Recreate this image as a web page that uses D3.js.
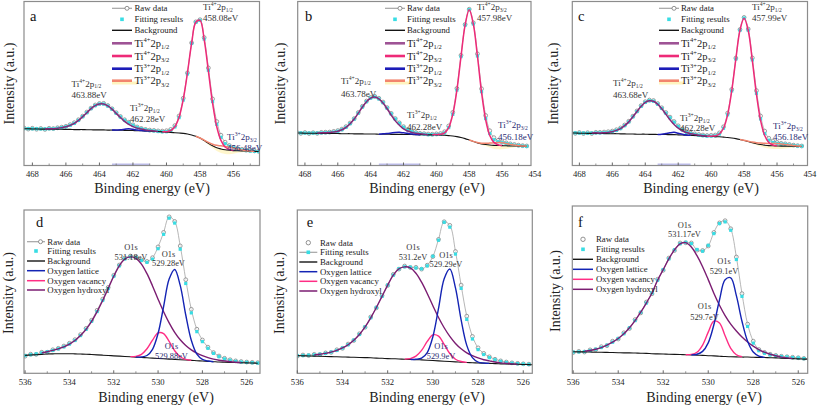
<!DOCTYPE html>
<html><head><meta charset="utf-8">
<script src="https://cdn.jsdelivr.net/npm/d3@7"></script>
<style>
body{margin:0;background:#fff}
svg{display:block}
svg text{font-family:'Liberation Serif','Times New Roman',Times,serif}
</style>
</head><body>
<svg id="chart" width="817" height="407" font-family="Liberation Serif, Times New Roman, serif"></svg>
<script>
// ---------------- DATA ----------------
const topEnergy = [468.5,468.25,468,467.75,467.5,467.25,467,466.75,466.5,466.25,466,465.75,465.5,465.25,465,464.75,464.5,464.25,464,463.75,463.5,463.25,463,462.75,462.5,462.25,462,461.75,461.5,461.25,461,460.75,460.5,460.25,460,459.75,459.5,459.25,459,458.75,458.5,458.25,458,457.75,457.5,457.25,457,456.75,456.5,456.25,456,455.75,455.5,455.25,455,454.75,454.5];
const botEnergy = [536,535.75,535.5,535.25,535,534.75,534.5,534.25,534,533.75,533.5,533.25,533,532.75,532.5,532.25,532,531.75,531.5,531.25,531,530.75,530.5,530.25,530,529.75,529.5,529.25,529,528.75,528.5,528.25,528,527.75,527.5,527.25,527,526.75,526.5,526.25,526,525.75,525.5];

const topTicksA = [468,466,464,462,460,458,456];
const topTicksBC = [468,466,464,462,460,458,456,454];
const topMinor = [467,465,463,461,459,457,455];
const botTicks = [536,534,532,530,528,526];
const botMinor = [535,533,531,529,527];

const topLegendLabels = ["Raw data","Fitting results","Background"];
const tiLegend = [["4+","1/2"],["4+","3/2"],["3+","1/2"],["3+","3/2"]];
const botLegendLabels = ["Raw data","Fitting results","Background","Oxygen lattice","Oxygen vacancy","Oxygen hydroxyl"];

// panel a (Ti 2p)
const aRaw = [22.9,22.2,22.7,22.1,22.6,22.0,22.7,22.5,23.0,23.4,23.9,24.9,26.1,27.9,30.1,32.6,35.0,36.9,37.8,37.9,36.6,34.6,32.2,29.9,27.9,26.4,24.8,23.5,22.6,22.0,21.6,21.4,21.1,21.0,21.2,22.0,24.3,30.2,41.0,56.5,74.8,87.6,88.9,78.0,59.5,40.6,26.8,18.5,14.2,12.2,11.0,10.3,9.9,9.4,9.2,8.9,8.7];
const aFit = [22.5,22.5,22.4,22.4,22.3,22.3,22.4,22.4,22.7,23.1,23.6,24.5,25.7,27.5,29.8,32.2,34.7,36.5,37.5,37.5,36.3,34.4,31.9,29.6,27.6,26.1,24.5,23.2,22.4,21.8,21.3,21.1,20.8,20.6,20.6,21.3,23.5,29.2,39.9,55.8,74.4,87.3,88.5,77.1,58.1,39.0,25.1,17.2,13.3,11.7,10.7,10.0,9.5,9.1,8.8,8.6,8.5];
const aBg = [22.4,22.4,22.3,22.3,22.2,22.2,22.2,22.1,22.1,22.1,22.0,22.0,21.9,21.9,21.9,21.8,21.8,21.7,21.7,21.7,21.6,21.6,21.5,21.5,21.4,21.4,21.3,21.2,21.2,21.1,21.0,20.9,20.7,20.5,20.3,20.2,20.0,19.8,19.6,19.2,18.6,17.8,16.7,15.2,13.5,12.0,10.8,10.1,9.6,9.3,9.1,9.0,8.9,8.8,8.7,8.6,8.5];
const aTi4p12From = 467.25, aTi4p12 = [0.1,0.2,0.3,0.6,1.0,1.6,2.5,3.8,5.6,7.9,10.4,12.9,14.8,15.8,15.8,14.7,12.8,10.3,7.8,5.5,3.7,2.4,1.6,1.0,0.6,0.3,0.2,0.1];
const aTi4p32From = 460.25, aTi4p32 = [0.1,0.3,1.1,3.6,9.6,20.6,37.2,55.8,69.5,71.8,61.6,44.0,26.0,12.8,5.2,1.7,0.5,0.1];
const aTi3p12From = 463.25, aTi3p12 = [0.0,0.1,0.3,0.7,1.0,0.8,0.4,0.15,0.05,0.0];
const aTi3p32From = 458.25, aTi3p32 = [0.0,0.1,0.3,0.6,1.0,1.5,1.9,2.0,1.9,1.5,1.0,0.6,0.3,0.1,0.0];
const aPeakText = [["Ti","4+","1/2","463.88eV"],["Ti","3+","1/2","462.28eV"],["Ti","4+","1/2","458.08eV"],["Ti","3+","3/2","456.48eV"]];

// panel b
const bRaw = [20.3,19.6,20.1,19.5,20.0,19.6,20.2,20.3,20.4,20.8,21.3,22.2,23.7,25.9,28.6,32.3,36.1,39.3,41.5,42.2,41.0,38.7,35.3,31.8,28.6,26.0,23.7,22.0,20.9,20.1,19.6,19.4,19.2,19.1,19.3,19.5,20.6,24.1,32.4,47.0,67.2,86.0,95.3,87.0,68.1,46.8,30.5,21.2,17.0,15.3,14.4,13.8,13.2,12.8,12.4,12.1,11.9];
const bFit = [19.9,19.9,19.8,19.8,19.8,19.8,19.9,20.0,20.1,20.4,20.9,21.8,23.3,25.5,28.3,31.9,35.7,38.9,41.1,41.8,40.6,38.3,35.0,31.5,28.3,25.7,23.3,21.7,20.6,19.8,19.3,19.1,18.8,18.8,18.9,19.0,19.9,23.1,31.2,46.0,66.4,85.6,95.0,86.3,66.8,45.0,28.6,19.5,15.7,14.5,13.9,13.4,12.9,12.4,12.1,11.9,11.7];
const bBg = [19.8,19.8,19.7,19.7,19.7,19.6,19.6,19.6,19.5,19.5,19.5,19.4,19.4,19.4,19.3,19.3,19.3,19.2,19.2,19.2,19.1,19.1,19.1,19.0,19.0,19.0,18.9,18.9,18.9,18.8,18.8,18.8,18.7,18.7,18.7,18.6,18.4,18.2,18.0,17.6,17.1,16.4,15.5,14.6,13.8,13.2,12.8,12.5,12.3,12.2,12.1,12.0,11.9,11.9,11.8,11.8,11.7];
const bTi4p12From = 467.25, bTi4p12 = [0.2,0.3,0.4,0.6,0.9,1.4,2.4,3.9,6.1,9.0,12.6,16.4,19.7,21.9,22.6,21.5,19.0,15.5,11.7,8.2,5.5,3.4,2.1,1.3,0.8,0.5,0.3,0.1];
const bTi4p32From = 460.25, bTi4p32 = [0.1,0.2,0.4,1.5,4.9,13.2,28.4,49.3,69.2,79.5,71.6,52.8,31.4,15.1,5.8,1.8,0.5,0.1];
const bTi3p12From = 463.5, bTi3p12 = [0.0,0.2,0.4,0.8,1.1,1.2,1.0,0.7,0.35,0.15,0.0];
const bTi3p32From = 458, bTi3p32 = [0.0,0.1,0.2,0.4,0.7,1.15,1.56,1.8,1.72,1.39,0.95,0.54,0.26,0.1,0.0];
const bPeakText = [["Ti","4+","1/2","463.78eV"],["Ti","3+","1/2","462.28eV"],["Ti","4+","3/2","457.98eV"],["Ti","3+","3/2","456.18eV"]];

// panel c
const cRaw = [20.2,19.6,20.1,19.5,20.0,19.5,20.2,20.2,20.4,20.6,21.0,21.8,22.9,24.7,27.0,30.1,33.3,36.5,38.9,39.9,39.6,37.8,35.2,32.3,29.5,26.8,24.2,22.1,20.6,19.8,19.3,18.9,18.6,18.3,18.4,18.6,19.9,23.6,31.9,46.4,65.5,82.9,90.3,83.2,65.6,45.7,30.2,21.0,16.6,14.9,14.1,13.5,13.2,12.8,12.4,12.1,11.9];
const cFit = [19.9,19.9,19.8,19.8,19.7,19.8,19.9,19.9,20.0,20.2,20.6,21.4,22.5,24.3,26.6,29.7,32.9,36.1,38.5,39.5,39.2,37.4,34.8,31.9,29.1,26.4,23.8,21.7,20.2,19.4,18.9,18.5,18.2,17.9,17.9,18.1,19.2,22.7,30.9,45.5,64.9,82.5,89.9,82.5,64.4,44.0,28.4,19.5,15.4,14.0,13.5,13.1,12.9,12.5,12.2,11.9,11.8];
const cBg = [19.8,19.8,19.7,19.7,19.6,19.6,19.6,19.5,19.5,19.4,19.4,19.4,19.3,19.3,19.2,19.2,19.1,19.1,19.1,19.0,19.0,18.9,18.9,18.9,18.8,18.8,18.7,18.6,18.5,18.4,18.3,18.1,18.0,17.8,17.7,17.6,17.5,17.3,17.1,16.8,16.4,15.9,15.3,14.6,13.9,13.3,12.8,12.4,12.1,12.0,11.9,11.8,11.8,11.7,11.7,11.6,11.6];
const cTi4p12From = 467.25, cTi4p12 = [0.2,0.3,0.35,0.5,0.8,1.2,2.0,3.2,5.0,7.4,10.5,13.8,17.0,19.4,20.5,20.2,18.5,15.7,12.4,9.1,6.2,4.1,2.6,1.6,1.0,0.6,0.35,0.2,0.1];
const cTi4p32From = 460.25, cTi4p32 = [0.0,0.2,0.45,1.7,5.4,13.8,28.7,48.5,66.6,74.5,67.7,50.1,30.1,14.7,5.9,1.9,0.5,0.1];
const cTi3p12From = 463.25, cTi3p12 = [0.0,0.17,0.57,1.15,1.4,1.0,0.45,0.12,0.0];
const cTi3p32From = 458.25, cTi3p32 = [0.0,0.11,0.22,0.38,0.61,0.89,1.16,1.38,1.49,1.46,1.3,1.05,0.76,0.5,0.3,0.17];
const cPeakText = [["Ti","4+","1/2","463.68eV"],["Ti","3+","1/2","462.28eV"],["Ti","4+","1/2","457.99eV"],["Ti","3+","3/2","456.18eV"]];

// panel d (O 1s)
const dRaw = [10.5,11.7,11.6,12.9,12.9,14.4,15.3,16.7,18.4,20.6,23.7,27.5,32.5,38.6,45.4,52.6,60.0,66.3,70.6,71.8,71.3,69.4,68.5,70.8,77.4,86.3,95.8,93.0,78.0,57.3,39.2,27.0,20.4,16.0,12.7,10.6,9.2,8.3,7.6,7.2,6.9,6.7,6.5];
const dFit = [10.9,11.4,11.9,12.5,13.2,14.0,15.0,16.2,17.9,20.1,23.1,26.9,31.8,37.8,44.6,51.9,59.4,65.8,70.0,71.3,70.9,69.1,67.9,69.9,76.3,85.1,95.0,92.0,76.0,55.0,37.0,25.5,19.4,15.3,12.2,10.2,8.8,8.0,7.3,6.9,6.7,6.5,6.3];
const dBg = [11.0,11.2,11.4,11.6,11.8,11.9,12.0,12.0,12.0,11.9,11.8,11.7,11.5,11.3,11.1,10.9,10.7,10.5,10.3,10.1,9.9,9.7,9.5,9.3,9.1,8.9,8.7,8.5,8.3,8.1,7.9,7.7,7.5,7.3,7.1,6.9,6.8,6.7,6.6,6.5,6.4,6.3,6.2];
const dHydFrom = 535.25, dHyd = [0.9,1.4,2.1,3.0,4.2,5.9,8.2,11.3,15.2,20.3,26.5,33.5,41.0,48.7,55.3,59.7,61.2,60.5,57.2,51.5,44.2,36.3,28.8,22.2,16.6,12.2,8.9,6.4,4.6,3.3,2.3,1.6,1.1,0.7,0.4,0.2,0.1];
const dLatFrom = 531, dLat = [0.0,0.3,1.4,5.4,15.3,32.0,49.0,55.1,45.5,27.6,12.3,4.0,1.0,0.2,0.0];
const dVacFrom = 531.25, dVac = [0.1,0.5,1.9,5.5,11.0,15.6,15.4,10.8,5.3,1.8,0.4,0.1];
const dPeakText = [["O1s","531.18eV"],["O1s","529.28eV"],["O1s","529.88eV"]];

// panel e
const eRaw = [10.5,11.2,10.9,11.6,11.5,12.5,12.8,14.4,15.3,17.9,20.1,24.2,28.2,34.5,40.1,47.6,53.8,60.6,63.8,65.7,64.8,64.9,63.8,66.2,71.5,82.0,92.8,90.6,74.6,54.0,35.0,22.6,15.6,12.2,10.1,8.6,7.6,6.9,6.4,6.1,5.8,5.6,5.2];
const eFit = [10.9,10.9,11.1,11.3,11.7,12.2,13.0,14.0,15.5,17.5,20.3,23.8,28.4,34.0,40.3,47.1,54.0,60.1,64.0,65.2,65.0,64.5,64.0,65.8,71.7,81.5,92.5,89.5,73.0,52.0,33.0,21.0,14.5,11.5,9.6,8.3,7.3,6.6,6.2,5.9,5.7,5.5,5.3];
const eBg = [10.8,10.7,10.6,10.5,10.4,10.3,10.2,10.1,10.0,9.9,9.8,9.7,9.6,9.5,9.3,9.2,9.0,8.9,8.8,8.6,8.5,8.4,8.2,8.0,7.8,7.6,7.4,7.2,7.0,6.8,6.6,6.5,6.3,6.2,6.1,5.9,5.8,5.7,5.6,5.5,5.4,5.3,5.2];
const eHydFrom = 535.25, eHyd = [0.8,1.3,1.9,2.8,3.9,5.5,7.6,10.5,14.1,18.8,24.5,31.0,37.9,45.0,51.2,55.2,56.6,56.0,52.9,47.6,40.9,33.6,26.6,20.5,15.4,11.3,8.2,5.9,4.3,3.1,2.1,1.5,1.0,0.6,0.4,0.2,0.1];
const eLatFrom = 531, eLat = [0.0,0.2,1.1,4.7,14.6,32.1,50.5,56.7,45.3,25.9,10.5,3.1,0.6,0.1,0.0];
const eVacFrom = 531.25, eVac = [0.1,0.5,2.1,5.8,11.5,15.7,15.2,10.3,4.9,1.6,0.4,0.1];
const ePeakText = [["O1s","531.2eV"],["O1s","529.29eV"],["O1s","529.9eV"]];

// panel f
const fRaw = [12.4,13.1,12.7,14.0,14.1,15.9,16.5,19.2,20.5,24.2,26.8,32.1,36.1,42.6,47.5,56.2,61.6,68.9,73.4,77.9,78.0,77.9,73.6,73.4,76.1,84.2,89.9,91.2,86.4,69.5,47.6,29.4,19.2,14.2,12.5,11.4,10.7,10.2,9.9,9.6,9.3,8.9,8.7];
const fFit = [12.7,12.8,13.0,13.6,14.4,15.4,16.8,18.6,20.8,23.6,27.2,31.5,36.5,42.0,48.0,55.6,62.0,68.4,73.8,77.4,78.3,77.5,74.0,73.0,76.5,83.5,89.5,90.5,85.5,68.0,46.0,28.0,18.0,13.5,12.0,11.0,10.4,10.0,9.8,9.4,9.2,8.8,8.6];
const fBg = [12.9,12.8,12.8,12.7,12.6,12.6,12.5,12.4,12.3,12.2,12.2,12.1,12.0,11.9,11.7,11.6,11.5,11.4,11.3,11.2,11.1,11.0,10.8,10.7,10.5,10.4,10.2,10.0,9.9,9.8,9.7,9.7,9.6,9.5,9.4,9.3,9.2,9.0,8.9,8.8,8.6,8.5,8.4];
const fHydFrom = 535.5, fHyd = [0.4,0.9,1.8,2.8,4.3,6.2,8.5,11.4,15.0,19.4,24.5,30.1,36.3,44.0,50.5,57.0,62.5,66.2,67.0,64.5,59.5,53.0,45.5,37.5,30.5,24.5,19.5,15.5,12.0,9.0,6.6,4.7,3.2,2.1,1.3,0.7,0.3,0.1];
const fLatFrom = 530.75, fLat = [0.0,0.6,2.4,7.7,18.6,33.6,45.9,47.2,36.6,21.4,9.4,3.1,0.8,0.2];
const fVacFrom = 531, fVac = [0.0,0.3,1.8,6.2,14.1,20.8,19.9,12.4,5.0,1.3,0.2];
const fPeakText = [["O1s","531.17eV"],["O1s","529.1eV"],["O1s","529.7eV"]];

// ---------------- STYLE / LAYOUT ----------------
const C = {raw:'#777', rawLine:'#a3a3a3', fit:'#38dde4', bg:'#151515',
  ti4_12:'#86287a', ti4_32:'#ee2a78', ti3_12:'#1c1cb8', ti3_32:'#f2856e',
  lat:'#1424b4', vac:'#ff2d84', hyd:'#7b1d72', frame:'#8c8c8c', text:'#222', ann:'#333', navy:'#2b2b72'};
const FONT = "'Liberation Serif','Times New Roman',serif";

const topLegY = [8.3,19.3,30.3,43.3,56,68.7,80.7];
const L = {
  a:{l:24,r:259.5,t:1.5,b:165.5,dom:[468.5,454.45],letter:[30,21],yT:[14,83.5],xT:[152,193],leg:[112,132,134.5],legY:topLegY,
     lab:[[71.5,86.5,98,'start',C.ann],[130,111,121.5,'start',C.ann],[203,10,21,'start',C.ann],[227,140,150.5,'start',C.navy]]},
  b:{l:297.7,r:531,t:1.5,b:165.5,dom:[468.44,454.24],letter:[305,21],yT:[284.5,83.5],xT:[427,193],leg:[385,405,407],legY:topLegY,
     lab:[[341,83.5,97,'start',C.ann],[407,118,130,'start',C.ann],[477,10,21,'start',C.ann],[498,128,140,'start',C.navy]]},
  c:{l:572.3,r:807.5,t:1.5,b:165.5,dom:[468.43,454.15],letter:[578,21],yT:[558,83.5],xT:[701,193],leg:[659,679,681],legY:topLegY,
     lab:[[613,86,98,'start',C.ann],[680,121,131,'start',C.ann],[752,10,21,'start',C.ann],[773,129,140,'start',C.navy]]},
  d:{l:24,r:260,t:210,b:373.3,dom:[536.05,525.4],letter:[36,226.7],yT:[13,293],xT:[156,402],leg:[27,45,47.3],legY:[241.7,251,261,270.7,280.7,290],
     lab:[[131,250.2,259.7,'middle',C.ann],[168.5,256.5,265.7,'middle',C.ann],[171.5,348.8,358.6,'middle',C.navy]], rawLeg:'lineCircle', fitLeg:'square'},
  e:{l:297.3,r:532.3,t:210,b:373.3,dom:[536,525.6],letter:[306.7,227.3],yT:[284,293],xT:[427,402],leg:[299.3,317.3,320],legY:[242.7,252.3,262,271.7,281.3,291],
     lab:[[413,250.2,259.7,'middle',C.ann],[446,257.5,267.3,'middle',C.ann],[441,348.8,358.6,'middle',C.navy]], rawLeg:'circle', fitLeg:'lineSquare'},
  f:{l:572.3,r:807.7,t:206,b:373.3,dom:[536.04,525.58],letter:[578,226.7],yT:[560,291],xT:[704,402],leg:[573,593,596],legY:[239.3,249.3,259.3,269.3,279.3,289.3],
     lab:[[684.5,227.5,237,'middle',C.ann],[724,264.2,273.7,'middle',C.ann],[704.5,309.2,319.7,'middle',C.ann]], rawLeg:'circle', fitLeg:'square'}
};

const panels = [
  {key:'a', top:true, E:topEnergy, raw:aRaw, fit:aFit, bg:aBg, ticks:topTicksA, minor:topMinor, text:aPeakText,
   comps:[{from:aTi3p32From,h:aTi3p32,c:C.ti3_32,fill:true},{from:aTi3p12From,h:aTi3p12,c:C.ti3_12,axis:true},{from:aTi4p12From,h:aTi4p12,c:C.ti4_12},{from:aTi4p32From,h:aTi4p32,c:C.ti4_32}]},
  {key:'b', top:true, E:topEnergy, raw:bRaw, fit:bFit, bg:bBg, ticks:topTicksBC, minor:topMinor, text:bPeakText,
   comps:[{from:bTi3p32From,h:bTi3p32,c:C.ti3_32,fill:true},{from:bTi3p12From,h:bTi3p12,c:C.ti3_12,axis:true},{from:bTi4p12From,h:bTi4p12,c:C.ti4_12},{from:bTi4p32From,h:bTi4p32,c:C.ti4_32}]},
  {key:'c', top:true, E:topEnergy, raw:cRaw, fit:cFit, bg:cBg, ticks:topTicksBC, minor:topMinor, text:cPeakText,
   comps:[{from:cTi3p32From,h:cTi3p32,c:C.ti3_32,fill:true},{from:cTi3p12From,h:cTi3p12,c:C.ti3_12,axis:true},{from:cTi4p12From,h:cTi4p12,c:C.ti4_12},{from:cTi4p32From,h:cTi4p32,c:C.ti4_32}]},
  {key:'d', top:false, E:botEnergy, raw:dRaw, fit:dFit, bg:dBg, ticks:botTicks, minor:botMinor, text:dPeakText,
   comps:[{from:dHydFrom,h:dHyd,c:C.hyd},{from:dVacFrom,h:dVac,c:C.vac},{from:dLatFrom,h:dLat,c:C.lat}]},
  {key:'e', top:false, E:botEnergy, raw:eRaw, fit:eFit, bg:eBg, ticks:botTicks, minor:botMinor, text:ePeakText,
   comps:[{from:eHydFrom,h:eHyd,c:C.hyd},{from:eVacFrom,h:eVac,c:C.vac},{from:eLatFrom,h:eLat,c:C.lat}]},
  {key:'f', top:false, E:botEnergy, raw:fRaw, fit:fFit, bg:fBg, ticks:botTicks, minor:botMinor, text:fPeakText,
   comps:[{from:fHydFrom,h:fHyd,c:C.hyd},{from:fVacFrom,h:fVac,c:C.vac},{from:fLatFrom,h:fLat,c:C.lat}]}
];

// ---------------- DRAW ----------------
const svg = d3.select('#chart');
const defs = svg.append('defs');

function tiText(g, x, y, ion, sub, fs, color, anchor) {
  const t = g.append('text').attr('x', x).attr('y', y).attr('font-size', fs).attr('fill', color)
    .attr('font-family', FONT).attr('text-anchor', anchor || 'start');
  t.append('tspan').text('Ti');
  t.append('tspan').attr('font-size', fs * 0.62).attr('dy', -fs * 0.42).text(ion);
  t.append('tspan').attr('dy', fs * 0.42).text('2p');
  t.append('tspan').attr('font-size', fs * 0.62).attr('dy', fs * 0.22).text(sub);
  return t;
}
function txt(g, x, y, s, fs, color, anchor) {
  return g.append('text').attr('x', x).attr('y', y).attr('font-size', fs).attr('fill', color)
    .attr('font-family', FONT).attr('text-anchor', anchor || 'start').text(s);
}

function drawPanel(P) {
  const Lp = L[P.key];
  const x = d3.scaleLinear().domain(Lp.dom).range([Lp.l, Lp.r]);
  const y = d3.scaleLinear().domain([0, 100]).range([Lp.b, Lp.t]);
  const g = svg.append('g');
  defs.append('clipPath').attr('id', 'clip' + P.key).append('rect')
    .attr('x', Lp.l).attr('y', Lp.t).attr('width', Lp.r - Lp.l).attr('height', Lp.b - Lp.t);
  const plot = g.append('g').attr('clip-path', `url(#clip${P.key})`);
  const line = d3.line().x(d => x(d[0])).y(d => y(d[1])).curve(d3.curveCatmullRom.alpha(0.5));
  const E = P.E;
  const rawPts = E.map((e, i) => [e, P.raw[i]]);
  const fitPts = E.map((e, i) => [e, P.fit[i]]);
  const bgPts = E.map((e, i) => [e, P.bg[i]]);

  // raw data
  plot.append('path').attr('d', line(rawPts)).attr('fill', 'none').attr('stroke', C.rawLine).attr('stroke-width', 0.8);
  plot.append('g').selectAll('circle').data(rawPts).join('circle')
    .attr('cx', d => x(d[0])).attr('cy', d => y(d[1])).attr('r', 1.9)
    .attr('fill', '#fff').attr('fill-opacity', 0.6).attr('stroke', C.raw).attr('stroke-width', 0.7);
  // fitting results
  plot.append('g').selectAll('rect').data(fitPts).join('rect')
    .attr('x', d => x(d[0]) - 1.6).attr('y', d => y(d[1]) - 1.6).attr('width', 3.2).attr('height', 3.2)
    .attr('fill', C.fit);

  const compPts = P.comps.map(c => {
    const i0 = E.findIndex(e => Math.abs(e - c.from) < 1e-6);
    return c.h.map((h, j) => ({e: E[i0 + j], b: P.bg[i0 + j], v: P.bg[i0 + j] + h, h}));
  });
  P.comps.forEach((c, k) => {
    const pts = compPts[k];
    if (c.fill) {
      const area = d3.area().x(d => x(d.e)).y0(d => y(d.b - 1.3 * d.h)).y1(d => y(d.b)).curve(d3.curveCatmullRom.alpha(0.5));
      plot.append('path').attr('d', area(pts)).attr('fill', '#fff4bf').attr('opacity', 0.8);
    }
    if (c.axis) {
      plot.append('line').attr('x1', x(pts[0].e)).attr('x2', x(pts[pts.length - 1].e))
        .attr('y1', Lp.b - 1).attr('y2', Lp.b - 1).attr('stroke', '#bdbdec').attr('stroke-width', 2);
    }
  });
  plot.append('path').attr('d', line(bgPts)).attr('fill', 'none').attr('stroke', C.bg).attr('stroke-width', 1.1);
  P.comps.forEach((c, k) => {
    plot.append('path').attr('d', line(compPts[k].map(d => [d.e, d.v])))
      .attr('fill', 'none').attr('stroke', c.c).attr('stroke-width', P.top ? 1.5 : 1.4);
  });

  // frame & ticks
  g.append('rect').attr('x', Lp.l).attr('y', Lp.t).attr('width', Lp.r - Lp.l).attr('height', Lp.b - Lp.t)
    .attr('fill', 'none').attr('stroke', C.frame).attr('stroke-width', 1.2);
  const inDom = v => x(v) >= Lp.l - 0.1 && x(v) <= Lp.r + 0.1;
  g.append('g').selectAll('line').data(P.ticks.filter(inDom)).join('line')
    .attr('x1', d => x(d)).attr('x2', d => x(d)).attr('y1', Lp.b).attr('y2', Lp.b - 3)
    .attr('stroke', '#666').attr('stroke-width', 1);
  g.append('g').selectAll('line').data(P.minor.filter(inDom)).join('line')
    .attr('x1', d => x(d)).attr('x2', d => x(d)).attr('y1', Lp.b).attr('y2', Lp.b - 2)
    .attr('stroke', '#777').attr('stroke-width', 0.8);
  g.append('g').selectAll('text').data(P.ticks).join('text')
    .attr('x', d => x(d)).attr('y', Lp.b + 11.6).attr('text-anchor', 'middle').attr('font-family', FONT)
    .attr('font-size', 8.6).attr('fill', C.text).text(d => d3.format('d')(d));
  txt(g, Lp.xT[0], Lp.xT[1], 'Binding energy (eV)', 14, C.text, 'middle');
  g.append('text').attr('transform', `translate(${Lp.yT[0]},${Lp.yT[1]}) rotate(-90)`).attr('text-anchor', 'middle')
    .attr('font-family', FONT).attr('font-size', 14).attr('fill', C.text).text('Intensity (a.u.)');
  txt(g, Lp.letter[0], Lp.letter[1], P.key, 14.5, '#111');

  // legend
  const [lx0, lx1, tx] = Lp.leg;
  const lg = g.append('g');
  const rawLeg = Lp.rawLeg || 'lineCircle', fitLeg = Lp.fitLeg || 'square';
  const ly = Lp.legY;
  if (rawLeg === 'lineCircle') {
    lg.append('line').attr('x1', lx0).attr('x2', lx1).attr('y1', ly[0]).attr('y2', ly[0]).attr('stroke', C.rawLine).attr('stroke-width', 1.2);
    lg.append('circle').attr('cx', lx0 + (lx1 - lx0) * 0.75).attr('cy', ly[0]).attr('r', 2).attr('fill', '#fff').attr('stroke', C.raw).attr('stroke-width', 0.8);
  } else {
    lg.append('circle').attr('cx', (lx0 + lx1) / 2).attr('cy', ly[0]).attr('r', 2.2).attr('fill', '#fff').attr('stroke', C.raw).attr('stroke-width', 0.8);
  }
  if (fitLeg === 'lineSquare') {
    lg.append('line').attr('x1', lx0).attr('x2', lx1).attr('y1', ly[1]).attr('y2', ly[1]).attr('stroke', C.rawLine).attr('stroke-width', 1.2);
  }
  lg.append('rect').attr('x', (lx0 + lx1) / 2 - 1.8).attr('y', ly[1] - 1.8).attr('width', 3.6).attr('height', 3.6).attr('fill', C.fit);
  lg.append('line').attr('x1', lx0).attr('x2', lx1).attr('y1', ly[2]).attr('y2', ly[2]).attr('stroke', C.bg).attr('stroke-width', 1.4);
  const labels = P.top ? topLegendLabels : botLegendLabels;
  labels.slice(0, 3).forEach((s, i) => txt(lg, tx, ly[i] + 3, s, 8.8, C.text));
  if (P.top) {
    const cols = [C.ti4_12, C.ti4_32, C.ti3_12, C.ti3_32];
    tiLegend.forEach((t, i) => {
      const yy = ly[3 + i];
      if (i === 3) lg.append('rect').attr('x', lx0).attr('y', yy + 0.8).attr('width', lx1 - lx0 + 5).attr('height', 3).attr('fill', '#fff4bf');
      lg.append('line').attr('x1', lx0).attr('x2', lx1).attr('y1', yy).attr('y2', yy).attr('stroke', cols[i]).attr('stroke-width', 2.6).attr('stroke-opacity', i === 0 ? 0.8 : 1);
      tiText(lg, tx, yy + 3.6, t[0], t[1], 10.5, C.text);
    });
  } else {
    const cols = [C.lat, C.vac, C.hyd];
    labels.slice(3).forEach((s, i) => {
      const yy = ly[3 + i];
      lg.append('line').attr('x1', lx0).attr('x2', lx1).attr('y1', yy).attr('y2', yy).attr('stroke', cols[i]).attr('stroke-width', 1.5);
      txt(lg, tx, yy + 3, s, 8.8, C.text);
    });
  }

  // peak annotations
  Lp.lab.forEach((pos, i) => {
    const t = P.text[i];
    const [px, y1, y2, anchor, col] = pos;
    if (P.top) {
      tiText(g, px, y1, t[1], t[2], 9, col, anchor);
      txt(g, px, y2, t[3], 9, col, anchor);
    } else {
      txt(g, px, y1, t[0], 8.4, col, anchor);
      txt(g, px, y2, t[1], 8.4, col, anchor);
    }
  });
}

panels.forEach(drawPanel);
</script>
</body></html>
